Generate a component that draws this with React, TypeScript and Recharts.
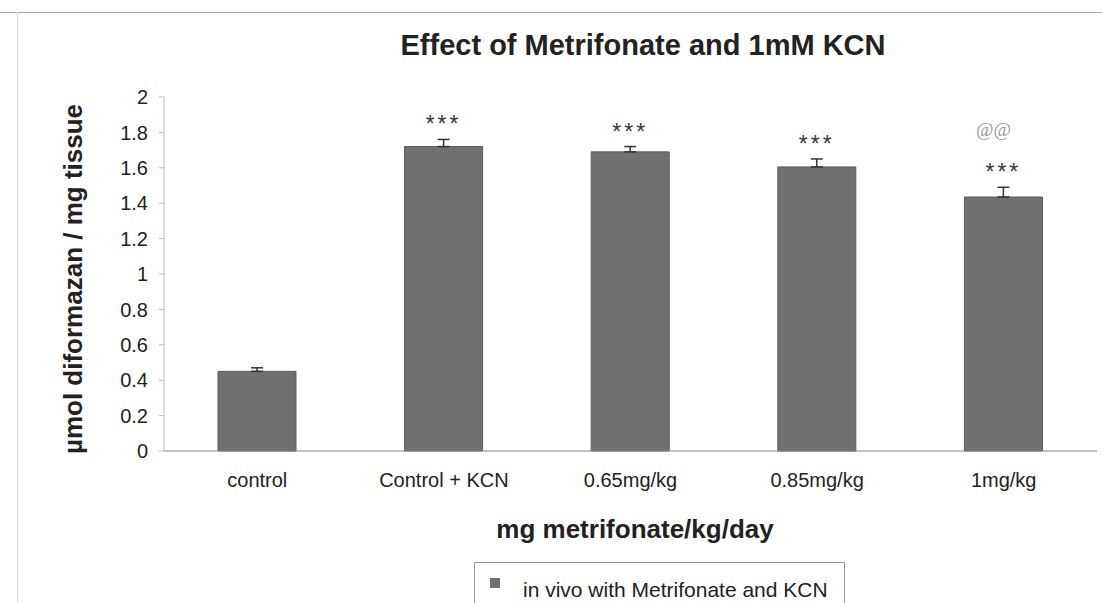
import React from 'react';
import { BarChart, Bar, XAxis, YAxis, ErrorBar, LabelList } from 'recharts';

// dose groups on the x axis
const categories = ['control', 'Control + KCN', '0.65mg/kg', '0.85mg/kg', '1mg/kg'];
// mean µmol diformazan / mg tissue
const means = [0.45, 1.72, 1.69, 1.605, 1.435];
// upper error (SEM), plus direction only
const semUp = [0.02, 0.04, 0.03, 0.045, 0.055];
// significance markers
const stars = ['', '***', '***', '***', '***'];
const atMarks = ['', '', '', '', '@@'];
const yTicks = [0, 0.2, 0.4, 0.6, 0.8, 1, 1.2, 1.4, 1.6, 1.8, 2];

const data = categories.map((name, i) => ({
  name,
  value: means[i],
  err: [0, semUp[i]],
  stars: stars[i],
  at: atMarks[i],
}));

const FONT = '"Liberation Sans", Arial, Helvetica, sans-serif';
const BAR_FILL = '#707070';

// draws *** (and @@) above the error bar top
const MarkLabel = (props: any) => {
  const { x, y, width, height, index } = props;
  const d = data[index];
  if (!d || !d.stars) return null;
  const pxPerUnit = height / d.value;
  const errTop = y - semUp[index] * pxPerUnit;
  const cx = x + width / 2;
  return (
    <g>
      <text
        x={cx}
        y={errTop - 7}
        textAnchor="middle"
        fontFamily={FONT}
        fontSize={23}
        letterSpacing={3}
        fill="#3a3a3a"
      >
        {d.stars}
      </text>
      {d.at && (
        <text
          x={cx - 10}
          y={errTop - 51}
          textAnchor="middle"
          fontFamily='"Liberation Serif", "Times New Roman", serif'
          fontSize={19}
          fill="#999"
        >
          {d.at}
        </text>
      )}
    </g>
  );
};

export default function App() {
  return (
    <div style={{ position: 'absolute', left: 0, top: 0, width: 1102, height: 603, background: '#fff', overflow: 'hidden', fontFamily: FONT }}>
      {/* scan frame lines */}
      <div style={{ position: 'absolute', left: 0, top: 12, width: 1102, height: 1, background: '#aaa' }} />
      <div style={{ position: 'absolute', left: 17, top: 12, width: 1, height: 591, background: '#ddd' }} />

      <div style={{ position: 'absolute', left: 343, top: 31, width: 600, textAlign: 'center', fontSize: 29, fontWeight: 'bold', lineHeight: 1, color: '#222' }}>
        Effect of Metrifonate and 1mM KCN
      </div>

      <div
        style={{
          position: 'absolute',
          left: 73,
          top: 279,
          transform: 'translate(-50%, -50%) rotate(-90deg)',
          whiteSpace: 'nowrap',
          fontSize: 26,
          fontWeight: 'bold',
          lineHeight: 1,
          color: '#222',
        }}
      >
        µmol diformazan / mg tissue
      </div>

      <BarChart width={1102} height={603} data={data} margin={{ top: 97, right: 5, bottom: 92, left: 0 }}>
        <YAxis
          width={164}
          domain={[0, 2]}
          ticks={yTicks}
          interval={0}
          axisLine={{ stroke: '#bbb' }}
          tickLine={{ stroke: '#bbb' }}
          tickSize={5}
          tickMargin={11}
          tick={{ fontSize: 20, fill: '#222', fontFamily: FONT }}
        />
        <XAxis
          dataKey="name"
          height={60}
          axisLine={{ stroke: '#888' }}
          tickLine={false}
          tickSize={0}
          tickMargin={22}
          tick={{ fontSize: 20, fill: '#222', fontFamily: FONT }}
        />
        <Bar dataKey="value" barSize={78} fill={BAR_FILL} stroke="#5a5a5a" strokeWidth={1} isAnimationActive={false}>
          <ErrorBar dataKey="err" width={6} stroke="#333" strokeWidth={1.5} direction="y" />
          <LabelList dataKey="stars" content={MarkLabel} />
        </Bar>
      </BarChart>

      <div style={{ position: 'absolute', left: 335, top: 516, width: 600, textAlign: 'center', fontSize: 26, fontWeight: 'bold', lineHeight: 1, color: '#222' }}>
        mg metrifonate/kg/day
      </div>

      <div style={{ position: 'absolute', left: 474, top: 562, width: 371, height: 45, border: '1px solid #999', boxSizing: 'border-box' }}>
        <div style={{ position: 'absolute', left: 15, top: 15, width: 10, height: 10, background: BAR_FILL }} />
        <div style={{ position: 'absolute', left: 48, top: 16, fontSize: 21, lineHeight: 1, color: '#222', whiteSpace: 'nowrap' }}>
          in vivo with Metrifonate and KCN
        </div>
      </div>
    </div>
  );
}
